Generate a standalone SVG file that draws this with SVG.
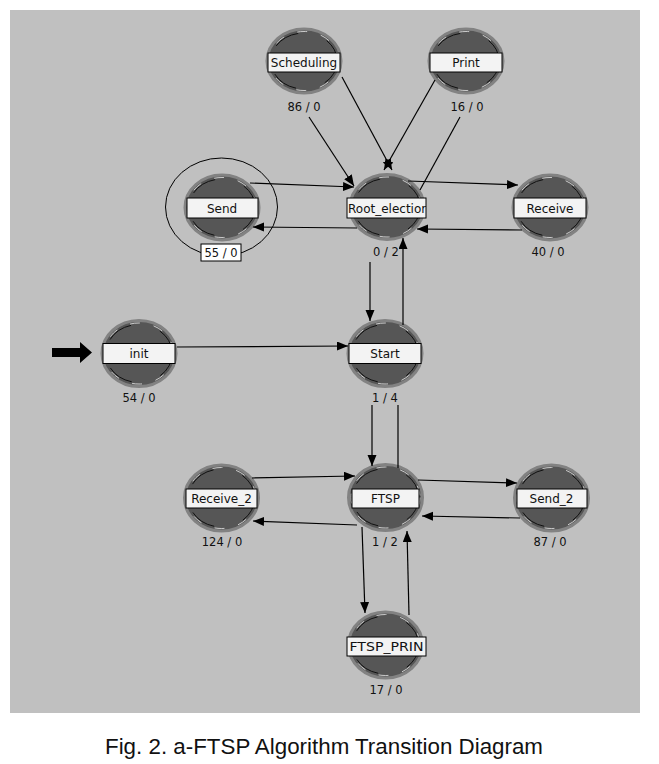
<svg xmlns="http://www.w3.org/2000/svg" width="659" height="764" viewBox="0 0 659 764">
<style>
.ring{fill:#565656;stroke:#828282;stroke-width:3}
.arc1{fill:none;stroke:#111;stroke-width:1;stroke-dasharray:26 30}
.arc2{fill:none;stroke:#e8e8e8;stroke-width:0.8;stroke-dasharray:10 14}
.band{fill:#f3f3f3;stroke:#000;stroke-width:1}
.lbl{font-family:"DejaVu Sans",Verdana,sans-serif;font-size:12px;fill:#111;text-anchor:middle}
.cnt{font-family:"DejaVu Sans",Verdana,sans-serif;font-size:11.5px;fill:#111;text-anchor:middle}
.edge{stroke:#000;stroke-width:1.2;fill:none}
.ah{marker-end:url(#arr)}
</style>
<defs>
<marker id="arr" markerUnits="userSpaceOnUse" markerWidth="12" markerHeight="10" refX="11" refY="4.5" orient="auto">
<path d="M0,0 L11,4.5 L0,9 z" fill="#000"/>
</marker>
<clipPath id="clipRoot"><rect x="347" y="198" width="79" height="20"/></clipPath>
<clipPath id="clipPrin"><rect x="347" y="637" width="79" height="19"/></clipPath>
</defs>
<rect x="0" y="0" width="659" height="764" fill="#fff"/>
<rect x="10" y="10" width="630" height="703" fill="#c0c0c0"/>

<g id="node-scheduling">
<ellipse class="ring" cx="304" cy="61" rx="37" ry="32"/>
<ellipse class="arc1" cx="304" cy="61" rx="33" ry="28"/>
<ellipse class="arc2" cx="304" cy="61" rx="34.5" ry="29.5"/>
<rect class="band" x="268" y="53" width="72" height="19"/>
<text class="lbl" x="304" y="67">Scheduling</text>
<text class="cnt" x="304" y="111">86 / 0</text>
</g>
<g id="node-print">
<ellipse class="ring" cx="466" cy="61" rx="37" ry="32"/>
<ellipse class="arc1" cx="466" cy="61" rx="33" ry="28"/>
<ellipse class="arc2" cx="466" cy="61" rx="34.5" ry="29.5"/>
<rect class="band" x="430" y="53" width="72" height="19"/>
<text class="lbl" x="466" y="67">Print</text>
<text class="cnt" x="467" y="111">16 / 0</text>
</g>
<g id="node-send">
<ellipse cx="221.5" cy="207" rx="56" ry="49" fill="none" stroke="#000" stroke-width="1"/>
<ellipse class="ring" cx="222" cy="207.5" rx="37" ry="32.5"/>
<ellipse class="arc1" cx="222" cy="207.5" rx="33" ry="28.5"/>
<ellipse class="arc2" cx="222" cy="207.5" rx="34.5" ry="30"/>
<rect class="band" x="187" y="198" width="71" height="20"/>
<text class="lbl" x="222" y="212.5">Send</text>
<rect x="201" y="244" width="40" height="17" fill="#fff" stroke="#000" stroke-width="1"/>
<text class="cnt" x="221" y="256.5">55 / 0</text>
</g>
<g id="node-root-election">
<ellipse class="ring" cx="387" cy="207" rx="37" ry="32.5"/>
<ellipse class="arc1" cx="387" cy="207" rx="33" ry="28.5"/>
<ellipse class="arc2" cx="387" cy="207" rx="34.5" ry="30"/>
<rect class="band" x="347" y="198" width="79" height="20"/>
<text class="lbl" x="348" y="212.5" style="text-anchor:start" clip-path="url(#clipRoot)">Root_election</text>
<text class="cnt" x="386" y="256">0 / 2</text>
</g>
<g id="node-receive">
<ellipse class="ring" cx="550" cy="207.5" rx="37" ry="32.5"/>
<ellipse class="arc1" cx="550" cy="207.5" rx="33" ry="28.5"/>
<ellipse class="arc2" cx="550" cy="207.5" rx="34.5" ry="30"/>
<rect class="band" x="514" y="198" width="72" height="20"/>
<text class="lbl" x="550" y="212.5">Receive</text>
<text class="cnt" x="548" y="256">40 / 0</text>
</g>
<g id="node-init">
<ellipse class="ring" cx="139" cy="353.5" rx="37" ry="33"/>
<ellipse class="arc1" cx="139" cy="353.5" rx="33" ry="29"/>
<ellipse class="arc2" cx="139" cy="353.5" rx="34.5" ry="30.5"/>
<rect class="band" x="103" y="343.5" width="72" height="20"/>
<text class="lbl" x="139" y="358">init</text>
<text class="cnt" x="139" y="402">54 / 0</text>
</g>
<g id="node-start">
<ellipse class="ring" cx="385" cy="353.5" rx="37" ry="33"/>
<ellipse class="arc1" cx="385" cy="353.5" rx="33" ry="29"/>
<ellipse class="arc2" cx="385" cy="353.5" rx="34.5" ry="30.5"/>
<rect class="band" x="349" y="343.5" width="72" height="20"/>
<text class="lbl" x="385" y="358">Start</text>
<text class="cnt" x="385" y="402">1 / 4</text>
</g>
<g id="node-receive-2">
<ellipse class="ring" cx="221.5" cy="498" rx="37" ry="33"/>
<ellipse class="arc1" cx="221.5" cy="498" rx="33" ry="29"/>
<ellipse class="arc2" cx="221.5" cy="498" rx="34.5" ry="30.5"/>
<rect class="band" x="186" y="489" width="71" height="19"/>
<text class="lbl" x="221.5" y="503">Receive_2</text>
<text class="cnt" x="222" y="546">124 / 0</text>
</g>
<g id="node-ftsp">
<ellipse class="ring" cx="385.5" cy="497.5" rx="37" ry="33"/>
<ellipse class="arc1" cx="385.5" cy="497.5" rx="33" ry="29"/>
<ellipse class="arc2" cx="385.5" cy="497.5" rx="34.5" ry="30.5"/>
<rect class="band" x="352" y="489" width="67" height="19"/>
<text class="lbl" x="385.5" y="503">FTSP</text>
<text class="cnt" x="385" y="546">1 / 2</text>
</g>
<g id="node-send-2">
<ellipse class="ring" cx="551.5" cy="498" rx="37" ry="33"/>
<ellipse class="arc1" cx="551.5" cy="498" rx="33" ry="29"/>
<ellipse class="arc2" cx="551.5" cy="498" rx="34.5" ry="30.5"/>
<rect class="band" x="517" y="489" width="70" height="19"/>
<text class="lbl" x="551.5" y="503">Send_2</text>
<text class="cnt" x="550" y="546">87 / 0</text>
</g>
<g id="node-ftsp-prin">
<ellipse class="ring" cx="385.5" cy="645" rx="37" ry="33"/>
<ellipse class="arc1" cx="385.5" cy="645" rx="33" ry="29"/>
<ellipse class="arc2" cx="385.5" cy="645" rx="34.5" ry="30.5"/>
<rect class="band" x="347" y="637" width="79" height="19"/>
<text class="lbl" x="386.5" y="651" clip-path="url(#clipPrin)" textLength="74" lengthAdjust="spacingAndGlyphs">FTSP_PRIN</text>
<text class="cnt" x="386" y="694">17 / 0</text>
</g>

<g id="connectors">
<line class="edge ah" x1="342" y1="77" x2="392" y2="170"/>
<line class="edge ah" x1="435" y1="80" x2="384" y2="170"/>
<line class="edge ah" x1="309" y1="117" x2="354" y2="186"/>
<line class="edge" x1="420" y1="190" x2="460" y2="117"/>
<line class="edge ah" x1="250" y1="183" x2="354" y2="187"/>
<line class="edge ah" x1="357" y1="228" x2="253" y2="227"/>
<line class="edge ah" x1="408" y1="181" x2="518" y2="185"/>
<line class="edge ah" x1="522" y1="230" x2="417" y2="229"/>
<line class="edge ah" x1="370" y1="262" x2="370" y2="321"/>
<line class="edge ah" x1="403" y1="325" x2="403" y2="238"/>
<line class="edge ah" x1="177" y1="347" x2="348" y2="346"/>
<line class="edge ah" x1="372" y1="405" x2="372" y2="466"/>
<line class="edge" x1="398" y1="468" x2="398" y2="405"/>
<line class="edge ah" x1="252" y1="478" x2="355" y2="476"/>
<line class="edge ah" x1="418" y1="480" x2="517" y2="483"/>
<line class="edge ah" x1="520" y1="518" x2="422" y2="516"/>
<line class="edge ah" x1="357" y1="525" x2="253" y2="521"/>
<line class="edge ah" x1="362" y1="527" x2="365" y2="613"/>
<line class="edge ah" x1="409" y1="615" x2="407" y2="531"/>
<path d="M52,348 L80,348 L80,342 L92,352.5 L80,363 L80,357 L52,357 z" fill="#000"/>
</g>

<text x="324" y="754" font-family="'Liberation Sans',Arial,sans-serif" font-size="22" fill="#111" text-anchor="middle" textLength="438" lengthAdjust="spacingAndGlyphs">Fig. 2. a-FTSP Algorithm Transition Diagram</text>
</svg>
